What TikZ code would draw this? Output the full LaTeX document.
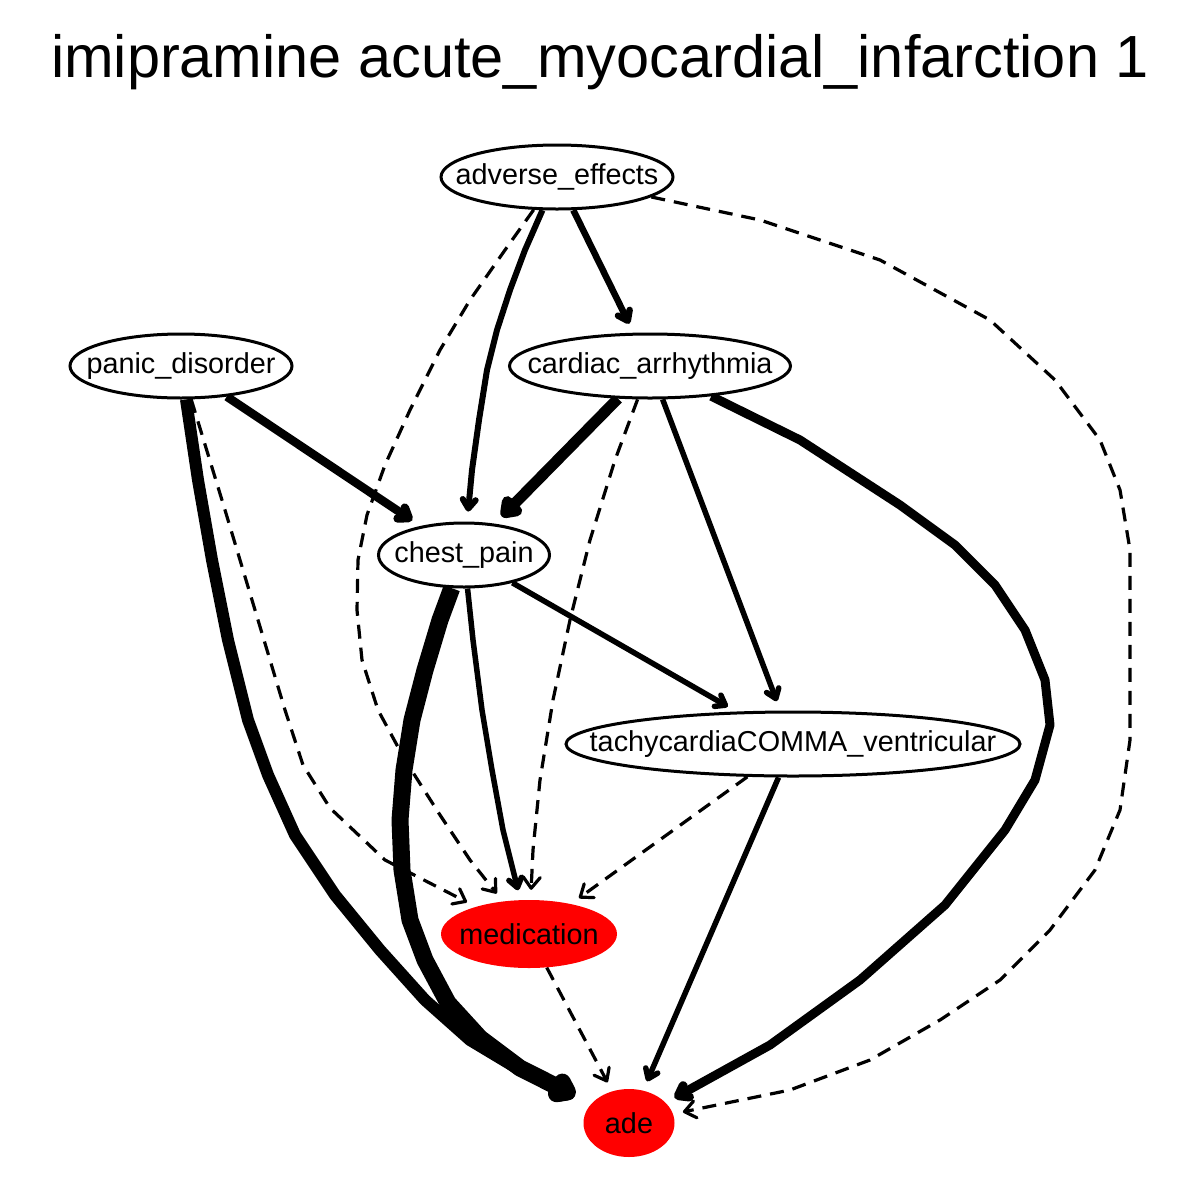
\documentclass[tikz,border=0pt]{standalone}
\usepackage{fontspec}
\setmainfont{Liberation Sans}
\usetikzlibrary{shapes.geometric,arrows.meta,backgrounds}
\begin{document}
\begin{tikzpicture}[x=1pt,y=-1pt,
  lbl/.style={font=\fontsize{28.8}{30}\selectfont},
  wnode/.style={ellipse,draw,line width=3pt,fill=white,inner sep=0pt,lbl},
  rnode/.style={ellipse,fill=red,inner sep=0pt,lbl},
  sedge/.style={line width=#1,line join=round,-{Straight Barb[length=9pt,width=13pt,round]},shorten >=10pt},
  dedge/.style={line width=3.2pt,line join=round,dash pattern=on 14pt off 9pt,-{Straight Barb[length=11pt,width=17pt,round]},shorten >=10pt},
]
\path[use as bounding box] (0,0) rectangle (1200,1200);
\node[font=\fontsize{59.5}{62}\selectfont] (title) at (600,62) {imipramine acute\_myocardial\_infarction 1};

\node[wnode,minimum width=232pt,minimum height=64pt] (ae) at (557,177) {\makebox[0pt]{adverse\_effects}};
\node[wnode,minimum width=222pt,minimum height=64pt] (pd) at (181,366) {\makebox[0pt]{panic\_disorder}};
\node[wnode,minimum width=281pt,minimum height=64pt] (ca) at (650,366) {\makebox[0pt]{cardiac\_arrhythmia}};
\node[wnode,minimum width=171pt,minimum height=64pt] (cp) at (464,555) {\makebox[0pt]{chest\_pain}};
\node[wnode,minimum width=454pt,minimum height=64pt] (tach) at (793,744) {\makebox[0pt]{tachycardiaCOMMA\_ventricular}};
\node[rnode,minimum width=176pt,minimum height=68pt] (med) at (529,934) {\makebox[0pt]{medication}};
\node[rnode,minimum width=91pt,minimum height=68pt] (ade) at (629,1123) {\makebox[0pt]{ade}};

\begin{scope}[on background layer]
% adverse_effects
\draw[sedge=6.5pt] (ae) -- (ca);
\draw[sedge=6pt] (ae) -- (525,250) -- (510,290) -- (497,330) -- (487,370) -- (479,420) -- (472,470) -- (cp);
\draw[dedge] (ae) -- (505,250) -- (470,300) -- (440,350) -- (410,410) -- (385,465) -- (367,515) -- (358,560) -- (357,610) -- (362,660) -- (378,710) -- (405,760) -- (440,815) -- (470,860) -- (med);
\draw[dedge] (ae) -- (760,220) -- (880,260) -- (990,320) -- (1055,380) -- (1100,440) -- (1120,490) -- (1130,550) -- (1130,740) -- (1120,810) -- (1095,870) -- (1050,930) -- (1000,980) -- (940,1020) -- (870,1060) -- (790,1090) -- (ade);
% panic_disorder
\draw[sedge=8.5pt] (pd) -- (cp);
\draw[sedge=12pt,shorten >=18pt] (pd) -- (198,480) -- (212,560) -- (228,640) -- (248,720) -- (268,775) -- (295,835) -- (335,895) -- (380,950) -- (425,1000) -- (470,1040) -- (520,1070) -- (ade);
\draw[dedge] (pd) -- (225,510) -- (258,620) -- (285,710) -- (303,765) -- (330,808) -- (385,860) -- (med);
% cardiac_arrhythmia
\draw[sedge=11pt] (ca) -- (cp);
\draw[dedge] (ca) -- (615,460) -- (590,540) -- (570,620) -- (553,700) -- (540,780) -- (533,850) -- (med);
\draw[sedge=5.5pt] (ca) -- (tach);
\draw[sedge=9pt] (ca) -- (800,440) -- (900,505) -- (955,545) -- (995,585) -- (1025,630) -- (1045,680) -- (1050,725) -- (1035,780) -- (1005,830) -- (945,905) -- (860,980) -- (770,1045) -- (ade);
% chest_pain
\draw[sedge=5.5pt] (cp) -- (tach);
\draw[sedge=5.5pt] (cp) -- (473,640) -- (482,710) -- (492,770) -- (503,830) -- (med);
\draw[sedge=17pt,shorten >=18pt] (cp) -- (440,620) -- (425,670) -- (412,720) -- (404,770) -- (400,820) -- (402,870) -- (410,920) -- (425,960) -- (448,1003) -- (480,1038) -- (520,1068) -- (ade);
% tachycardia
\draw[dedge] (tach) -- (med);
\draw[sedge=5.5pt] (tach) -- (ade);
% medication
\draw[dedge] (med) -- (ade);
\end{scope}
\end{tikzpicture}
\end{document}
